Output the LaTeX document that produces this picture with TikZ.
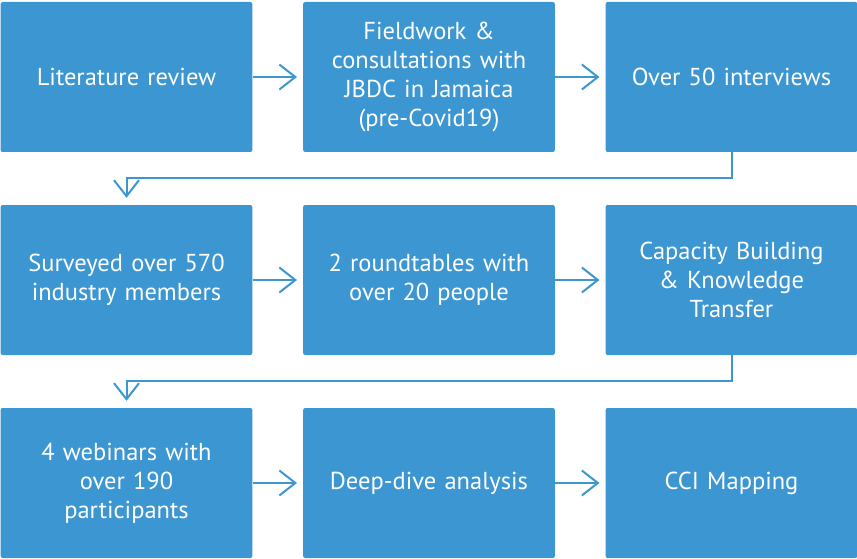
\documentclass[tikz,border=0pt]{standalone}
\usepackage{fontspec}
\setmainfont{PT Sans}
\usepackage{tikz}
\usetikzlibrary{arrows.meta}

\definecolor{stepblue}{RGB}{60,150,210}

\begin{document}
\begin{tikzpicture}[x=1pt, y=-1pt,
    stepbox/.style={fill=stepblue, draw=none, rounded corners=2pt,
      minimum width=251pt, minimum height=150pt, text width=245pt,
      align=center, text=white, font=\fontsize{24.5}{29}\selectfont},
    link/.style={draw=stepblue, line width=2pt,
      -{Straight Barb[length=16pt, width=25pt, line width=2pt]}}]
  \useasboundingbox (0, 0) rectangle (857, 559);

  % premiere rangee
  \node[stepbox] (lit) at (126.5, 77) {Literature review};
  \node[stepbox] (field) at (429, 77) {Fieldwork \&\\ consultations with\\ JBDC in Jamaica\\ (pre-Covid19)};
  \node[stepbox] (interv) at (731.5, 77) {Over 50 interviews};

  % deuxieme rangee
  \node[stepbox] (survey) at (126.5, 280) {Surveyed over 570\\ industry members};
  \node[stepbox] (round) at (429, 280) {2 roundtables with\\ over 20 people};
  \node[stepbox] (capa) at (731.5, 280) {Capacity Building\\ \& Knowledge\\ Transfer};

  % troisieme rangee
  \node[stepbox] (webin) at (126.5, 483) {4 webinars with\\ over 190\\ participants};
  \node[stepbox] (deep) at (429, 483) {Deep-dive analysis};
  \node[stepbox] (cci) at (731.5, 483) {CCI Mapping};

  % fleches
  \draw[link] (lit.east) -- ([xshift=-6pt]field.west);
  \draw[link] (field.east) -- ([xshift=-6pt]interv.west);
  \draw[link] (interv.south) -- ++(0, 26) -| ([yshift=7pt]survey.north);
  \draw[link] (survey.east) -- ([xshift=-6pt]round.west);
  \draw[link] (round.east) -- ([xshift=-6pt]capa.west);
  \draw[link] (capa.south) -- ++(0, 26) -| ([yshift=7pt]webin.north);
  \draw[link] (webin.east) -- ([xshift=-6pt]deep.west);
  \draw[link] (deep.east) -- ([xshift=-6pt]cci.west);
\end{tikzpicture}
\end{document}
